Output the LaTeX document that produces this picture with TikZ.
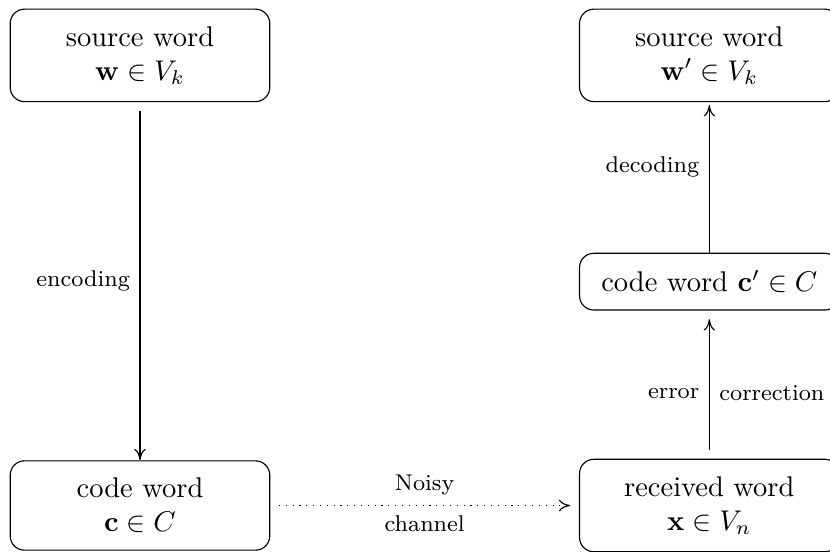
\documentclass[tikz,border=0pt]{standalone}
\usepackage{amsmath,amssymb}
\usetikzlibrary{arrows.meta}
\begin{document}
\begin{tikzpicture}[
        >={To[length=4pt, width=4pt]},
        thin
    ]
    \tikzset{
        wordnode/.style = {rectangle, rounded corners=5pt, draw=black, align=center, minimum width=3.2cm, inner ysep=6pt},
        steplabel/.style = {font=\footnotesize},
    }
    \useasboundingbox (-1.726,-0.573) rectangle (8.508,6.233);
    \node[wordnode] at (0.00,5.55) (A) {source word\\ $\mathbf{w}\in V_k$};
    \node[wordnode] at (0.00,0.00) (B) {code word\\ $\mathbf{c}\in C$};
    \node[wordnode] at (7.02,0.00) (C) {received word\\ $\mathbf{x}\in V_n$};
    \node[wordnode] at (7.02,2.76) (D) {code word $\mathbf{c}'\in C$};
    \node[wordnode] at (7.02,5.55) (E) {source word\\ $\mathbf{w}'\in V_k$};
    \draw[->, shorten <=3pt] (A) -- (B) node[midway, left, steplabel] {encoding};
    \draw[->, dotted, shorten <=3pt, shorten >=3pt] (B) -- (C)
        node[midway, above, steplabel] {Noisy}
        node[midway, below, steplabel] {channel};
    \draw[->, shorten <=3pt, shorten >=3pt] (C) -- (D)
        node[pos=0.44, left, steplabel] {error}
        node[pos=0.44, right, steplabel] {correction};
    \draw[->, shorten >=1pt] (D) -- (E) node[pos=0.57, left, steplabel] {decoding};
\end{tikzpicture}
\end{document}
